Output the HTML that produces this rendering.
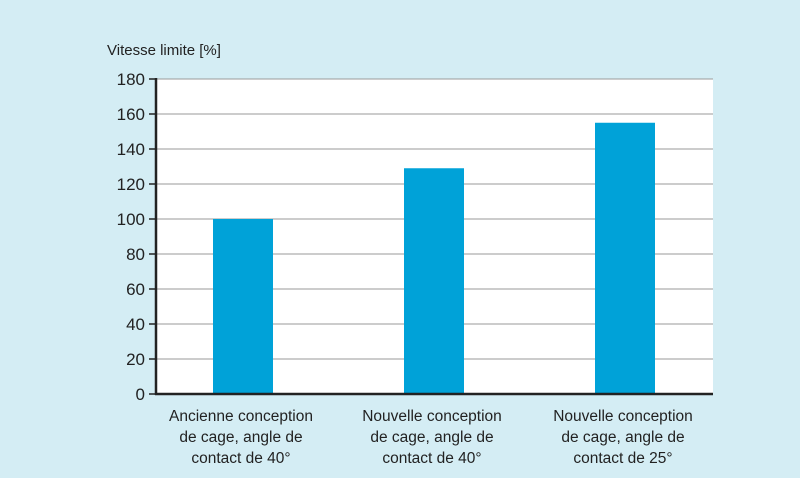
<!DOCTYPE html>
<html><head><meta charset="utf-8"><style>
body{margin:0;background:#d4edf4;}
svg{display:block;font-family:"Liberation Sans",sans-serif;}
</style></head><body>
<svg width="800" height="478">
<rect x="0" y="0" width="800" height="478" fill="#d4edf4"/>
<text x="107" y="55" font-size="15" fill="#222">Vitesse limite [%]</text>
<rect x="156" y="79" width="557" height="315" fill="#fff"/>
<g id="grid"></g><g id="bars"></g><g id="axes"></g><g id="labels"></g>
</svg>
<script>
const categories=[["Ancienne conception","de cage, angle de","contact de 40°"],["Nouvelle conception","de cage, angle de","contact de 40°"],["Nouvelle conception","de cage, angle de","contact de 25°"]];
const values=[100,129,155];
const ticks=[0,20,40,60,80,100,120,140,160,180];
const NS="http://www.w3.org/2000/svg";
const y0=394,yTop=79,ymax=180;
const y=v=>y0-(y0-yTop)*v/ymax;
const xc=i=>243+i*191;
function mk(t,a,p){const e=document.createElementNS(NS,t);for(const k in a)e.setAttribute(k,a[k]);p.appendChild(e);return e;}
const grid=document.getElementById('grid'),bars=document.getElementById('bars'),axes=document.getElementById('axes'),labels=document.getElementById('labels');
ticks.forEach(t=>{
 if(t>0){const g=mk('line',{x1:156,x2:713,y1:y(t),y2:y(t),stroke:'#9a9a9a','stroke-width':1},grid);
 
 }
 const tk=mk('line',{x1:149,x2:156,y1:y(t),y2:y(t),stroke:'#222','stroke-width':1.5},axes);
 
 
 const tx=mk('text',{x:145,y:y(t)+6,'text-anchor':'end','font-size':17,fill:'#222'},axes);
 tx.textContent=t;
 
 
});
values.forEach((v,i)=>{
 const b=mk('rect',{x:xc(i)-30,y:y(v),width:60,height:y0-y(v),fill:'#00a2d8'},bars);
 
 
 categories[i].forEach((l,j)=>{
  const tx=mk('text',{x:xc(i)-2,y:421+j*21,'text-anchor':'middle','font-size':15.5,fill:'#222'},labels);
  tx.textContent=l;
  
  
 });
});
const ya=mk('line',{x1:156,x2:156,y1:78,y2:395,stroke:'#222','stroke-width':2.5},axes);


const xa=mk('line',{x1:155,x2:713,y1:394,y2:394,stroke:'#222','stroke-width':2.5},axes);


</script>
</body></html>
